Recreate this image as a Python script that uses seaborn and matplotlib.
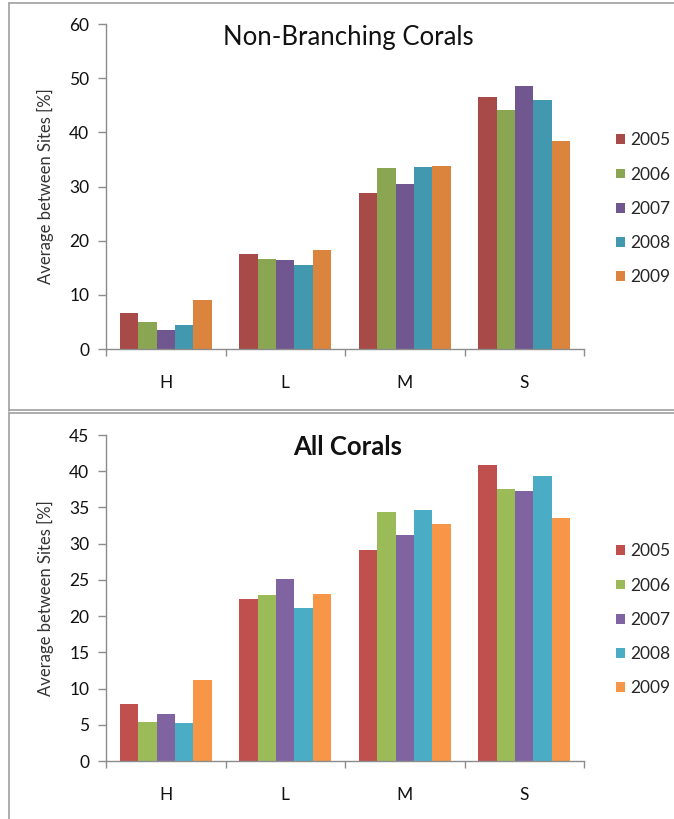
import matplotlib
matplotlib.use("Agg")
import matplotlib.pyplot as plt
from matplotlib.lines import Line2D
from matplotlib.patches import Patch
from matplotlib.ticker import FixedLocator, MultipleLocator
import pandas as pd
import seaborn as sns

# Coral cover, averaged between sites, by zone and survey year
zones = ["H", "L", "M", "S"]
years = ["2005", "2006", "2007", "2008", "2009"]

non_branching = {
    "2005": [6.6, 17.6, 28.8, 46.5],
    "2006": [5.0, 16.7, 33.4, 44.1],
    "2007": [3.6, 16.4, 30.4, 48.5],
    "2008": [4.4, 15.5, 33.6, 45.9],
    "2009": [9.0, 18.3, 33.7, 38.4],
}
all_corals = {
    "2005": [7.8, 22.4, 29.1, 40.9],
    "2006": [5.4, 22.9, 34.4, 37.6],
    "2007": [6.5, 25.1, 31.2, 37.3],
    "2008": [5.2, 21.1, 34.7, 39.3],
    "2009": [11.2, 23.1, 32.7, 33.5],
}

colors_top = ["#A84A47", "#8AA653", "#71578F", "#4198AF", "#DB843D"]
colors_bottom = ["#C0504D", "#9BBB59", "#8064A2", "#4BACC6", "#F79646"]


def long_form(table):
    rows = []
    for y in years:
        for z, v in zip(zones, table[y]):
            rows.append({"zone": z, "year": y, "value": v})
    return pd.DataFrame(rows)


sns.set_theme(style="white")
plt.rcParams["font.family"] = ["Lato", "DejaVu Sans"]

W, H = 674, 819
fig = plt.figure(figsize=(W / 100, H / 100), dpi=100)

AX_L, AX_R = 106, 584


def px_axes(left, right, top, bottom):
    return fig.add_axes([left / W, 1 - bottom / H, (right - left) / W, (bottom - top) / H])


ax_top = px_axes(AX_L, AX_R, 24, 349)
ax_bot = px_axes(AX_L, AX_R, 435, 761)

axis_gray = "#8C8C8C"


def draw_panel(ax, table, palette, ymax, ystep, title, title_weight, title_size,
               title_y, legend_y):
    df = long_form(table)
    sns.barplot(data=df, x="zone", y="value", hue="year", order=zones,
                hue_order=years, palette=palette, width=0.77, gap=0,
                saturation=1, edgecolor="none", linewidth=0, ax=ax,
                legend=False, errorbar=None)
    ax.set_xlim(-0.5, 3.5)
    ax.set_ylim(0, ymax)
    ax.yaxis.set_major_locator(MultipleLocator(ystep))
    for s in ["top", "right"]:
        ax.spines[s].set_visible(False)
    for s in ["left", "bottom"]:
        ax.spines[s].set_color(axis_gray)
        ax.spines[s].set_linewidth(1.0)
    ax.set_xlabel("")
    ax.set_ylabel("Average between Sites [%]", fontsize=12, color="#333333",
                  labelpad=11)
    ax.tick_params(axis="y", which="major", length=6, width=1, color=axis_gray,
                   direction="out", left=True, labelsize=12.5, pad=6,
                   labelcolor="#111111")
    ax.xaxis.set_minor_locator(FixedLocator([-0.5, 0.5, 1.5, 2.5, 3.5]))
    ax.tick_params(axis="x", which="major", length=0, pad=19, labelsize=12.5,
                   labelcolor="#111111")
    ax.tick_params(axis="x", which="minor", length=5, width=1, color=axis_gray,
                   direction="out", bottom=True)
    ax.grid(False)
    ax.set_facecolor("white")
    ax.text(0.506, title_y, title, transform=ax.transAxes, ha="center",
            va="baseline", fontsize=title_size, fontweight=title_weight,
            color="#111111")
    handles = [Patch(facecolor=c, edgecolor="none", label=y)
               for c, y in zip(palette, years)]
    ax.legend(handles=handles, loc="upper left",
              bbox_to_anchor=((609 - AX_L) / (AX_R - AX_L), legend_y),
              frameon=False, fontsize=12.5, handlelength=0.5, handleheight=0.5,
              handletextpad=0.3, labelspacing=1.05, borderaxespad=0)


draw_panel(ax_top, non_branching, colors_top, 60, 10, "Non-Branching Corals",
           "normal", 18.5, 1 - (45 - 24) / 325, 1 - (125.5 - 24) / 325)
draw_panel(ax_bot, all_corals, colors_bottom, 45, 5, "All Corals",
           "bold", 18.5, 1 - (455 - 435) / 326, 1 - (536.5 - 435) / 326)

# panel frames
frame = "#A0A0A0"


def fline(xs, ys, lw=1.2):
    fig.add_artist(Line2D([x / W for x in xs], [1 - y / H for y in ys],
                          color=frame, linewidth=lw))


fline([9, 674], [3, 3])
fline([9, 9], [3, 411])
fline([9, 674], [410, 410])
fline([9, 674], [413, 413])
fline([9, 9], [413, 819])

fig.savefig("out.png", dpi=100, facecolor="white")
